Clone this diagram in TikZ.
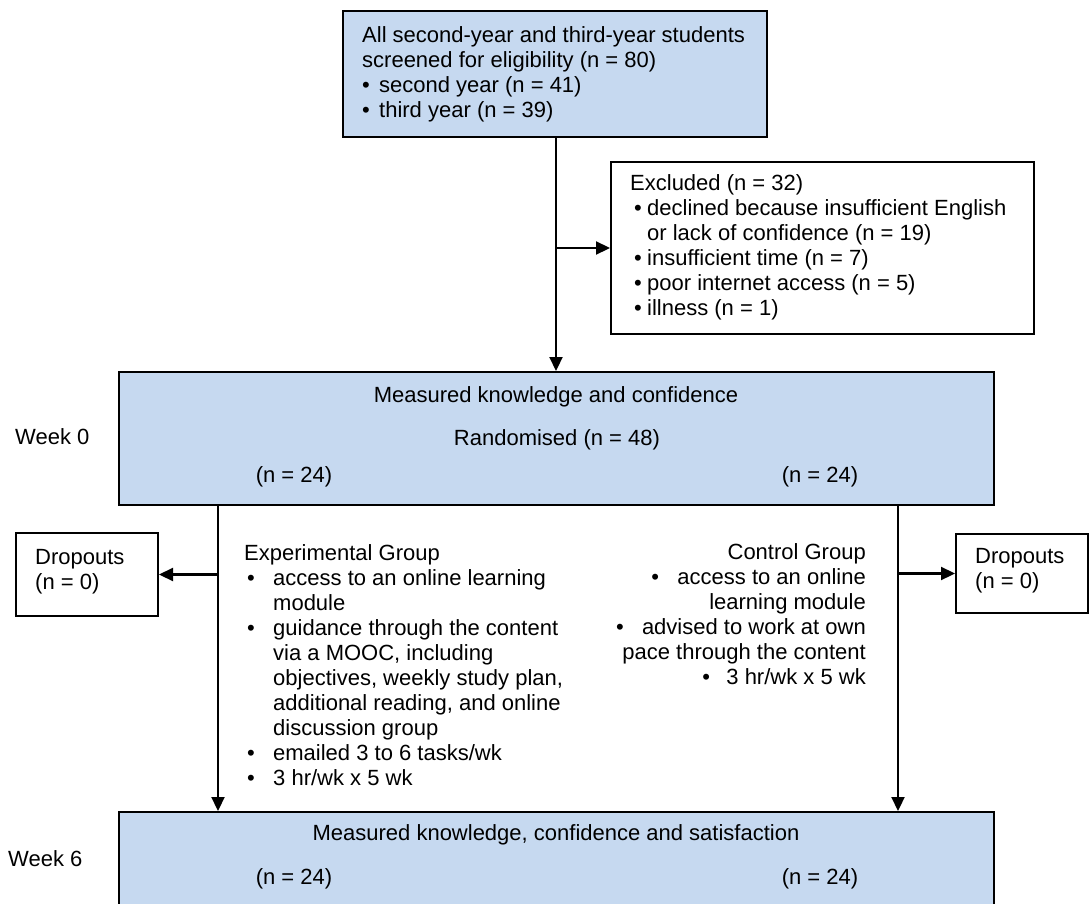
\documentclass[tikz,border=0pt]{standalone}
\usepackage{fontspec}
\setmainfont{Liberation Sans}
\usetikzlibrary{arrows.meta}
\definecolor{boxblue}{RGB}{198,217,240}
\begin{document}
\begin{tikzpicture}[x=1pt,y=-1pt,
  every node/.style={font=\fontsize{22pt}{25pt}\selectfont, inner sep=0pt},
  bluebox/.style={draw=black, line width=2pt, fill=boxblue, rectangle},
  whitebox/.style={draw=black, line width=2pt, fill=white, rectangle},
  txt/.style={align=left, anchor=north west},
  arr/.style={line width=2.2pt, -{Triangle[length=14pt,width=13pt]}}]
\useasboundingbox (0,0) rectangle (1089,904);
% boxes
\node[bluebox, minimum width=424pt, minimum height=126pt] (top) at (555,74) {};
\node[whitebox, minimum width=423pt, minimum height=172pt] (excl) at (822.5,248) {};
\node[bluebox, minimum width=875pt, minimum height=133pt] (mid) at (556.5,438.5) {};
\node[bluebox, minimum width=875pt, minimum height=128pt] (bot) at (556.5,876) {};
\node[whitebox, minimum width=142pt, minimum height=83pt] (dropL) at (87,574.5) {};
\node[whitebox, minimum width=132pt, minimum height=79pt] (dropR) at (1022,573.5) {};
% texts
\node[txt] (ttop) at (362,26) {All second-year and third-year students\\
screened for eligibility (n = 80)\\
\makebox[17pt][l]{•}second year (n = 41)\\
\makebox[17pt][l]{•}third year (n = 39)};
\node[txt] (texcl) at (630,174) {Excluded (n = 32)\\
\hspace*{4pt}\makebox[13pt][l]{•}declined because insufficient English\\
\hspace*{17pt}or lack of confidence (n = 19)\\
\hspace*{4pt}\makebox[13pt][l]{•}insufficient time (n = 7)\\
\hspace*{4pt}\makebox[13pt][l]{•}poor internet access (n = 5)\\
\hspace*{4pt}\makebox[13pt][l]{•}illness (n = 1)};
\node[anchor=base] (m1) at (556,402) {Measured knowledge and confidence};
\node[anchor=base] (m2) at (557,445) {Randomised (n = 48)};
\node[anchor=base] (m3) at (294,482) {(n = 24)};
\node[anchor=base] (m4) at (820,482) {(n = 24)};
\node[anchor=base west] (w0) at (15,444) {Week 0};
\node[anchor=base west] (w6) at (8,866) {Week 6};
\node[anchor=base] (b1) at (556,840) {Measured knowledge, confidence and satisfaction};
\node[anchor=base] (b2) at (294,884) {(n = 24)};
\node[anchor=base] (b3) at (820,884) {(n = 24)};
\node[txt] (tdl) at (35,549) {Dropouts\\(n = 0)};
\node[txt] (tdr) at (975,548) {Dropouts\\(n = 0)};
\node[txt] (texp) at (244,544) {Experimental Group\\
\hspace*{3pt}\makebox[26pt][l]{•}access to an online learning\\
\hspace*{29pt}module\\
\hspace*{3pt}\makebox[26pt][l]{•}guidance through the content\\
\hspace*{29pt}via a MOOC, including\\
\hspace*{29pt}objectives, weekly study plan,\\
\hspace*{29pt}additional reading, and online\\
\hspace*{29pt}discussion group\\
\hspace*{3pt}\makebox[26pt][l]{•}emailed 3 to 6 tasks/wk\\
\hspace*{3pt}\makebox[26pt][l]{•}3 hr/wk x 5 wk};
\node[align=right, anchor=north east] (tctl) at (866,543) {Control Group\\
\makebox[26pt][l]{•}access to an online\\
learning module\\
\makebox[26pt][l]{•}advised to work at own\\
pace through the content\\
\makebox[24pt][l]{•}3 hr/wk x 5 wk};
% connectors
\coordinate (cx) at (556,0);
\coordinate (lx) at (218,0);
\coordinate (rx) at (898,0);
\coordinate (br) at (cx |- excl.west);
\draw[arr] (cx |- top.south) -- (cx |- mid.north);
\draw[arr] (br) -- (excl.west);
\draw[arr] (lx |- mid.south) -- (lx |- bot.north);
\draw[arr] (rx |- mid.south) -- (rx |- bot.north);
\draw[arr] (lx |- dropL.east) -- (dropL.east);
\draw[arr] (rx |- dropR.west) -- (dropR.west);
\end{tikzpicture}
\end{document}
